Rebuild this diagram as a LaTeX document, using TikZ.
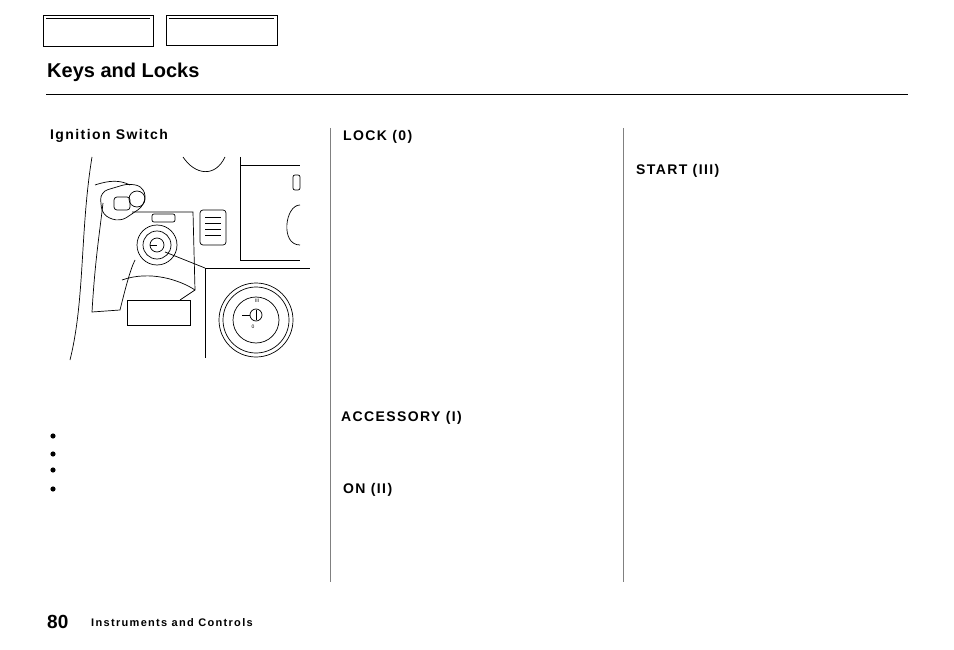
\documentclass[tikz,border=0pt]{standalone}
\usepackage{fontspec}
\setmainfont{Liberation Sans}
\begin{document}
\begin{tikzpicture}[x=1pt,y=-1pt,
  lbl/.style={anchor=west,font=\bfseries\fontsize{14}{16}\selectfont\addfontfeature{LetterSpace=10},inner sep=0},
  art/.style={line width=0.7pt}]
\useasboundingbox[fill=white] (0,0) rectangle (954,650);
% tab boxes
\draw[line width=1pt] (43,16) rectangle (153,47);
\draw[line width=0.6pt] (46,18) -- (150,18);
\draw[line width=1pt] (166,16) rectangle (277,46);
\draw[line width=0.6pt] (169,18) -- (274,18);
\node[anchor=west,inner sep=0,font=\bfseries\fontsize{20}{23}\selectfont] (title) at (47,72) {Keys and Locks};
\draw[line width=0.6pt] (46,94) -- (908,94);
\draw[line width=0.5pt,gray] (330,128) -- (330,582);
\draw[line width=0.5pt,gray] (623,128) -- (623,582);
% labels
\node[lbl] (ign) at (50,136) {Ignition Switch};
\node[lbl] (lock) at (343,137) {LOCK (0)};
\node[lbl] (start) at (636,171) {START (III)};
\node[lbl] (acc) at (341,418) {ACCESSORY (I)};
\node[lbl] (on) at (343,490) {ON (II)};
\foreach \y in {436,454,470,489} \fill (53,\y) circle (2.6);
\node[anchor=west,inner sep=0,font=\bfseries\fontsize{19}{21}\selectfont] (pg) at (47,622) {80};
\node[anchor=west,inner sep=0,font=\bfseries\fontsize{11}{13}\selectfont\addfontfeature{LetterSpace=12}] (sec) at (91,623) {Instruments and Controls};
% illustration
\draw[art] (92,157) .. controls (80,230) and (85,300) .. (70,360);
\draw[art] (95,185) .. controls (110,180) and (120,180) .. (130,185);
\draw[art] (103,203) .. controls (100,230) and (95,260) .. (92,312) -- (120,310) .. controls (125,290) and (130,270) .. (135,260);
\draw[art,rounded corners=8] (100,192) -- (130,183) -- (145,188) -- (145,205) -- (120,222) -- (102,215) -- cycle;
\draw[art] (137,199) circle (8);
\draw[art,rounded corners=3] (114,197) rectangle (130,210);
\draw[art] (132,212) -- (193,212) -- (195,290) -- (180,300);
\draw[art] (122,280) .. controls (150,270) and (180,280) .. (195,290);
\draw[art] (127,300) rectangle (190,325);
\draw[art,rounded corners=2] (152,214) rectangle (175,222);
\draw[art] (157,245) circle (20) circle (14) circle (7);
\draw[art] (150,245) -- (157,245);
\draw[art,rounded corners=3] (200,210) rectangle (226,245);
\foreach \y in {217,223,229,235} \draw (205,\y) -- (221,\y);
\draw[art] (183,157) .. controls (195,175) and (215,178) .. (225,157);
\draw[art] (240,157) -- (240,260) -- (300,260);
\draw[art] (240,165) -- (300,165);
\draw[art] (300,205) .. controls (285,205) and (280,245) .. (300,245);
\draw[art,rounded corners=2] (293,175) rectangle (300,190);
\draw[art] (165,252) -- (205,268);
\draw[art] (205,268) -- (205,358);
\draw[art] (205,268) -- (310,268);
\draw[art] (256,320) circle (37) circle (33) circle (23);
\draw[art] (256,315) circle (6);
\draw[art] (256,310) -- (256,320);
\draw[art] (242,315) -- (250,315);
\node[inner sep=0,font=\fontsize{5}{6}\selectfont] (m3) at (257,301) {III};
\node[inner sep=0,font=\fontsize{5}{6}\selectfont] (m0) at (253,327) {0};
\end{tikzpicture}
\end{document}
